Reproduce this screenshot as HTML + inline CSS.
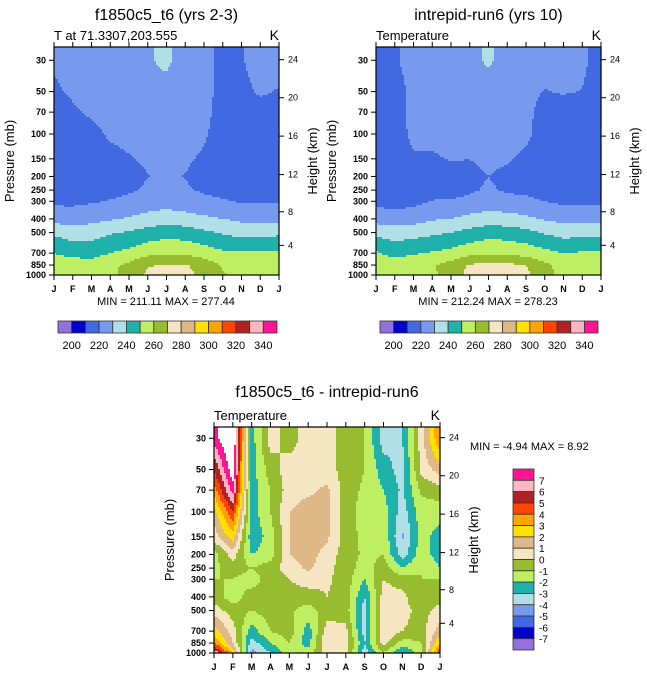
<!DOCTYPE html>
<html><head><meta charset="utf-8">
<style>
html,body{margin:0;padding:0;background:#fff;}
svg{display:block;font-family:"Liberation Sans",sans-serif;}
</style></head>
<body>
<svg id="chart" width="647" height="677" viewBox="0 0 647 677"></svg>
<script>
// ---- data ----
const months = ["J","F","M","A","M","J","J","A","S","O","N","D","J"];
const pressureLevels = [30,50,70,100,150,200,250,300,400,500,700,850,1000];
const pressureTickLabels = [30,50,70,100,150,200,250,300,400,500,700,850,1000];
const heightTickLabels = [24,20,16,12,8,4];
const heightTickPressure = [29.7,55.3,103.5,194,356,616];
const tempLevels = [200,210,220,230,240,250,260,270,280,290,300,310,320,330,340];
const tempBarLabels = [200,220,240,260,280,300,320,340];
const diffLevels = [-7,-6,-5,-4,-3,-2,-1,0,1,2,3,4,5,6,7];
const diffBarLabels = [7,6,5,4,3,2,1,0,-1,-2,-3,-4,-5,-6,-7];
const palette = ["#9370DB","#0000CD","#4169E1","#7799EE","#B0E0E6","#20B2AA","#BEEE62","#98BC30","#F5E5C0","#DEB887","#FFE000","#FFA500","#FF4500","#B22222","#FFB6C1","#FF1493"];

// rows = pressureLevels, cols = months
const tempCase1 = [
 [221,222,222,224,225,229,232,225,222,218,219.5,223,223],
 [219,221,223,224,225,226,227,225,223,217,218,221,219.5],
 [217,219,221,222.5,224,225,226,224,222.5,216.5,216,217,216.5],
 [216,217,218,221,222,223,224,223,221,216,215,215,215],
 [215,216,217,218,219.5,221,222,221,219,217,215,215,215],
 [214,214,215,216,218,219.8,221,219.8,217,215,214,214,214],
 [215,215,216,217,219,221,222,221,219,217,216,215,215],
 [218,218,219,220.5,222,224,225,224,222,221,219,219,219],
 [226,225,227,229,231,234,236,234,232,230,228,227,227],
 [238,235,236,239,241,244,246,245,242,239,236,237,238],
 [250,247,246,250,253,257,259,258,255,252,251,251,251],
 [255,255,255,258,262,269,271,271,266,259,256,256,255],
 [250.5,253,249.5,258,263,272,274,273,267,261,256,250.5,255]
];
const tempCase2 = [
 [217,219,223,225,226,228,231,227,221.5,222,222,221.5,217],
 [216,217,222,224,225,226,227,225,222,219.8,220.5,219.8,216],
 [216,217,222,223,224,225,226,224,222,217,217,217,216],
 [215,216,222,222,223,224,225,224,222,216,215,215,215],
 [214,215,219,219,220.5,220,222,221,218,215,214,214,214],
 [213,214,215,216,217,218,220,218,216,215,214,214,213],
 [214,214,215,216,217,219,221,219,218,216,215,215,214],
 [217,216,217,220.5,220.5,222,224,223,222,220,218,218,218],
 [226,225,226,229,230,233,235,234,232,229,227,227,227],
 [237,235,236,238,240,243,246,245,243,239,236,237,237],
 [251,247,249,251,253,257,259,258,256,253,250,251,251],
 [255,255,256,259,264,271,272,272,270,262,257,256,256],
 [249.5,252,252,258,265,273,275,274,272,263,257,252,249.5]
];
const tempDiff = [
 [7.5,9.5,-2.5,0.5,-0.5,0.5,0.5,-0.5,-1,-3.5,-3,0.5,4],
 [5,8.8,-2.5,-0.5,0.5,0.5,0.5,-0.5,-1,-2.5,-3.5,0.3,1.5],
 [3.5,7.5,-2.5,-1,0.5,0.8,1.2,-0.5,-1.2,-2,-3.2,-0.8,-0.5],
 [1.5,5,-2.5,-1,1,1.5,1.3,-0.5,-1.5,-1.5,-3.5,-1.5,-1.5],
 [0.5,2.5,-2.8,-1.5,1,1.5,1.2,-0.5,-1.3,-1.2,-4.2,-1.5,-2.5],
 [-1.5,0.5,-2,-1.5,1,1.5,0.6,-0.5,-1.2,-1,-3.5,-1.5,-2.5],
 [-1.2,-0.5,-1,-0.5,0.5,1.2,0.3,-0.5,-1.5,-0.5,-2,-1,-2],
 [-1,-1,-1.5,-0.5,0,0.5,0.2,-0.5,-2,0,-0.5,-1,-1],
 [-0.5,-1.5,-0.5,-0.8,-0.5,-0.5,0,-0.5,-3,0.5,0.3,-1,-0.5],
 [0.5,-0.5,-1,-0.5,-0.8,-1.5,-0.5,-0.5,-3.5,1,0.5,-0.5,0.5],
 [2.5,0.5,-2.5,-1,-0.5,-2.5,0.5,0.3,-3.5,1,0,-0.5,1.5],
 [4,1,-3.5,-2,-1,-2.5,1,0.5,-3,0.5,-1.5,-1,3],
 [7,3,-4.5,-3,-1.5,-1.5,0.5,0.3,-3.5,-1,-3.2,-1.5,5]
];

// ---- helpers ----
const svg = document.getElementById('chart');
const NS = "http://www.w3.org/2000/svg";
function mk(tag, attrs, parent){
  const e = document.createElementNS(NS, tag);
  for (const k in attrs) e.setAttribute(k, attrs[k]);
  (parent||svg).appendChild(e);
  return e;
}
function txt(s, x, y, size, anchor, parent, weight){
  const t = mk('text',{x:x,y:y,'font-size':size,'text-anchor':anchor||'start','font-weight':weight||'normal',fill:'#000'},parent);
  t.textContent = s;
  return t;
}
function colorFor(v, levels){
  if (levels === diffLevels && v > 8) return "#FFFFFF";
  let i = 0;
  while (i < levels.length && v >= levels[i]) i++;
  return palette[i];
}

function drawPanel(cfg){
  const g = mk('g',{});
  
  
  const x0 = cfg.x0, x1 = cfg.x1, yb = cfg.yb, yt = cfg.yt;
  const W = x1 - x0;
  const SC = 141;
  const xOf = m => x0 + m * W / (months.length - 1);
  const yOf = p => yb - SC * Math.log10(1000 / p);
  const logp = pressureLevels.map(p => Math.log10(p));
  function val(m, p){
    const lp = Math.log10(p);
    let r = 0;
    if (lp <= logp[0]) r = 0;
    else if (lp >= logp[logp.length-1]) r = logp.length - 1.0001;
    else { while (r < logp.length - 1 && logp[r+1] < lp) r++; r = r + (lp - logp[r]) / (logp[r+1] - logp[r]); }
    const ri = Math.min(Math.floor(r), logp.length - 2), rf = Math.max(0, Math.min(1, r - ri));
    const mm = Math.max(0, Math.min(months.length - 1, m));
    const ci = Math.min(Math.floor(mm), months.length - 2), cf = mm - ci;
    const d = cfg.data;
    const a = d[ri][ci]*(1-cf) + d[ri][ci+1]*cf;
    const b = d[ri+1][ci]*(1-cf) + d[ri+1][ci+1]*cf;
    return a*(1-rf) + b*rf;
  }
  const field = mk('g',{},g);
  
  
  const step = 2;
  const nx = Math.ceil(W / step);
  function flush(xs, xe, y, h, col){
    const r = mk('rect',{x:xs,y:y,width:xe-xs+0.4,height:h+0.4,fill:col},field);
    
    
  }
  for (let y = yt; y < yb; y += step){
    const h = Math.min(step, yb - y);
    const p = 1000 / Math.pow(10, (yb - (y + h/2)) / SC);
    let runStart = x0, runCol = null;
    for (let k = 0; k < nx; k++){
      const xs = x0 + k*step;
      const xc = Math.min(xs + step/2, x1);
      const m = (xc - x0) / W * (months.length - 1);
      const col = colorFor(val(m, p), cfg.levels);
      if (col !== runCol){
        if (runCol !== null) flush(runStart, xs, y, h, runCol);
        runStart = xs; runCol = col;
      }
    }
    flush(runStart, x1, y, h, runCol);
  }
  const fr = mk('rect',{x:x0,y:yt,width:W,height:yb-yt,fill:'none',stroke:'#000','stroke-width':1.2},g);
  
  
  const ax = mk('g',{},g);
  
  
  pressureTickLabels.forEach(p => {
    const y = yOf(p);
    mk('line',{x1:x0-5,x2:x0,y1:y,y2:y,stroke:'#000','stroke-width':1},ax);
    const t = txt(String(p), x0-8, y+3, 9, 'end', ax, 'bold');
    
    
  });
  const ra = mk('g',{},g);
  
  
  heightTickLabels.forEach((hk, i) => {
    const y = yOf(heightTickPressure[i]);
    mk('line',{x1:x1,x2:x1+5,y1:y,y2:y,stroke:'#000','stroke-width':1},ra);
    const t = txt(String(hk), x1+9, y+3, 9, 'start', ra);
    
    
  });
  const ma = mk('g',{},g);
  
  
  months.forEach((mo, i) => {
    const x = xOf(i);
    mk('line',{x1:x,x2:x,y1:yb,y2:yb+5,stroke:'#000','stroke-width':1},ma);
    mk('line',{x1:x,x2:x,y1:yt,y2:yt-5,stroke:'#000','stroke-width':1},ma);
    const t = txt(mo, x, yb+17, 9, 'middle', ma, 'bold');
    
    
  });
  let t = txt(cfg.title, (x0+x1)/2, cfg.titleY, 16, 'middle', g);
  
  
  t = txt(cfg.sub, x0, yt-7, 13, 'start', g);
  
  
  t = txt("K", x1, yt-7, 14, 'end', g);
  
  
  const ymid = (yt+yb)/2;
  t = txt("Pressure (mb)", 0, 0, 13, 'middle', g);
  t.setAttribute('transform', `translate(${x0-40},${ymid}) rotate(-90)`);
  
  
  t = txt("Height (km)", 0, 0, 13, 'middle', g);
  t.setAttribute('transform', `translate(${x1+38},${ymid}) rotate(-90)`);
  
  
  t = txt(cfg.minmax, cfg.mmX, cfg.mmY, 11, cfg.mmAnchor, g);
  
  
}

function hBar(x0, x1, y0, h, name){
  const g = mk('g',{});
  
  
  const w = (x1 - x0) / palette.length;
  palette.forEach((c, i) => {
    const r = mk('rect',{x:x0+i*w,y:y0,width:w,height:h,fill:c,stroke:'#333','stroke-width':0.8},g);
    
    
  });
  tempBarLabels.forEach(v => {
    const idx = tempLevels.indexOf(v) + 1;
    const t = txt(String(v), x0 + idx*w, y0+h+16, 11, 'middle', g);
    
    
  });
}
function vBar(x0, y0, w, y1, name){
  const g = mk('g',{});
  
  
  const h = (y1 - y0) / palette.length;
  palette.slice().reverse().forEach((c, i) => {
    const r = mk('rect',{x:x0,y:y0+i*h,width:w,height:h,fill:c,stroke:'#333','stroke-width':0.8},g);
    
    
  });
  diffBarLabels.forEach((v, i) => {
    const t = txt(String(v), x0+w+5, y0+(i+1)*h+4, 10, 'start', g);
    
    
  });
}

drawPanel({name:'panel-case1', x0:54, x1:279, yt:47, yb:275, data:tempCase1, levels:tempLevels,
  title:'f1850c5_t6 (yrs 2-3)', titleY:20, sub:'T at 71.3307,203.555', minmax:'MIN = 211.11 MAX = 277.44', mmX:166, mmY:305, mmAnchor:'middle'});
drawPanel({name:'panel-case2', x0:376, x1:601, yt:47, yb:275, data:tempCase2, levels:tempLevels,
  title:'intrepid-run6 (yrs 10)', titleY:20, sub:'Temperature', minmax:'MIN = 212.24 MAX = 278.23', mmX:488, mmY:305, mmAnchor:'middle'});
drawPanel({name:'panel-difference', x0:214, x1:440, yt:427, yb:653, data:tempDiff, levels:diffLevels,
  title:'f1850c5_t6 - intrepid-run6', titleY:397, sub:'Temperature', minmax:'MIN =  -4.94 MAX =   8.92', mmX:470, mmY:450, mmAnchor:'start'});
hBar(58, 277, 321, 12, 'colorbar-case1');
hBar(380, 598, 321, 12, 'colorbar-case2');
vBar(513, 469, 21, 650, 'colorbar-difference');
</script>
</body></html>
